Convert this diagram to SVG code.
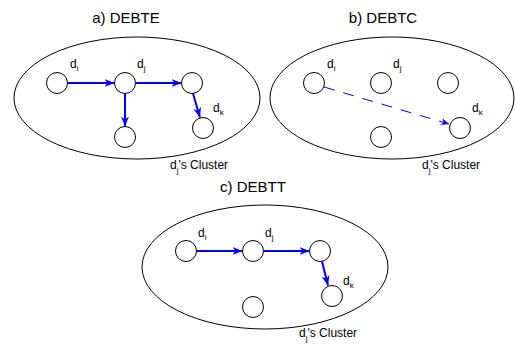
<svg xmlns="http://www.w3.org/2000/svg" width="515" height="345" viewBox="0 0 515 345">
  <style>
    .cluster { fill: none; stroke: #000; stroke-width: 1; }
    .node { fill: #fff; stroke: #000; stroke-width: 1; }
    .title { font-family: "Liberation Sans", Arial, sans-serif; font-size: 15px; fill: #000; text-anchor: middle; }
    .lbl { font-family: "Liberation Sans", Arial, sans-serif; font-size: 12px; fill: #000; }
    .sub { font-size: 8px; }
    .edge { fill: none; stroke: #0000ff; stroke-width: 2; marker-end: url(#head); }
    .dash { fill: none; stroke: #0000ff; stroke-width: 1; stroke-dasharray: 11 9; marker-end: url(#headThin); }
  </style>
  <defs>
    <marker id="head" markerUnits="userSpaceOnUse" markerWidth="12" markerHeight="10" refX="10" refY="4" orient="auto">
      <path d="M0,0 L10,4 L0,8 L3,4 Z" fill="#0000ff"/>
    </marker>
    <marker id="headThin" markerUnits="userSpaceOnUse" markerWidth="10" markerHeight="8" refX="8" refY="3.5" orient="auto">
      <path d="M0,0 L8,3.5 L0,7 L2.5,3.5 Z" fill="#0000ff"/>
    </marker>
  </defs>

  <!-- Panel a: DEBTE -->
  <g id="panel-a">
    <text class="title" x="126" y="23">a) DEBTE</text>
    <ellipse class="cluster" cx="137" cy="98" rx="123" ry="61"/>
    <text class="lbl" x="170" y="169">d<tspan class="sub" dy="4">j</tspan><tspan dy="-4">'s Cluster</tspan></text>
  </g>
  <g id="a-di"><circle class="node" cx="57" cy="83" r="10.5"/><text class="lbl" x="70" y="68">d<tspan class="sub" dy="3">i</tspan></text></g>
  <g id="a-dj"><circle class="node" cx="125" cy="83" r="10.5"/><text class="lbl" x="137" y="68">d<tspan class="sub" dy="3">j</tspan></text></g>
  <g id="a-n3"><circle class="node" cx="192" cy="83" r="10.5"/></g>
  <g id="a-n4"><circle class="node" cx="125" cy="137" r="10.5"/></g>
  <g id="a-dk"><circle class="node" cx="203" cy="128" r="10.5"/><text class="lbl" x="213" y="112">d<tspan class="sub" dy="3">k</tspan></text></g>

  <!-- Panel b: DEBTC -->
  <g id="panel-b">
    <text class="title" x="383" y="23">b) DEBTC</text>
    <ellipse class="cluster" cx="392" cy="98" rx="122" ry="61"/>
    <text class="lbl" x="422" y="169">d<tspan class="sub" dy="4">j</tspan><tspan dy="-4">'s Cluster</tspan></text>
  </g>
  <g id="b-di"><circle class="node" cx="314" cy="83" r="10.5"/><text class="lbl" x="327" y="68">d<tspan class="sub" dy="3">i</tspan></text></g>
  <g id="b-dj"><circle class="node" cx="381" cy="83" r="10.5"/><text class="lbl" x="393" y="68">d<tspan class="sub" dy="3">j</tspan></text></g>
  <g id="b-n3"><circle class="node" cx="448" cy="83" r="10.5"/></g>
  <g id="b-n4"><circle class="node" cx="381" cy="137" r="10.5"/></g>
  <g id="b-dk"><circle class="node" cx="460" cy="128" r="10.5"/><text class="lbl" x="472" y="112">d<tspan class="sub" dy="3">k</tspan></text></g>

  <!-- Panel c: DEBTT -->
  <g id="panel-c">
    <text class="title" x="253" y="192">c) DEBTT</text>
    <ellipse class="cluster" cx="265" cy="267" rx="123" ry="62"/>
    <text class="lbl" x="299" y="337">d<tspan class="sub" dy="4">j</tspan><tspan dy="-4">'s Cluster</tspan></text>
  </g>
  <g id="c-di"><circle class="node" cx="186" cy="251" r="10.5"/><text class="lbl" x="198" y="237">d<tspan class="sub" dy="3">i</tspan></text></g>
  <g id="c-dj"><circle class="node" cx="253" cy="251" r="10.5"/><text class="lbl" x="265" y="237">d<tspan class="sub" dy="3">j</tspan></text></g>
  <g id="c-n3"><circle class="node" cx="320" cy="251" r="10.5"/></g>
  <g id="c-n4"><circle class="node" cx="253" cy="307" r="10.5"/></g>
  <g id="c-dk"><circle class="node" cx="332" cy="296" r="10.5"/><text class="lbl" x="343" y="285">d<tspan class="sub" dy="3">k</tspan></text></g>

  <!-- Connectors -->
  <g id="connectors">
    <path class="edge" d="M67.5,83 L114.5,83"/>
    <path class="edge" d="M135.5,83 L181.5,83"/>
    <path class="edge" d="M125,93.5 L125,126.5"/>
    <path class="edge" d="M193,93.5 L200,117.5"/>
    <path class="dash" d="M324,87 L449,124"/>
    <path class="edge" d="M196.5,251 L242.5,251"/>
    <path class="edge" d="M263.5,251 L309.5,251"/>
    <path class="edge" d="M322,261.5 L328,285.5"/>
  </g>
</svg>
